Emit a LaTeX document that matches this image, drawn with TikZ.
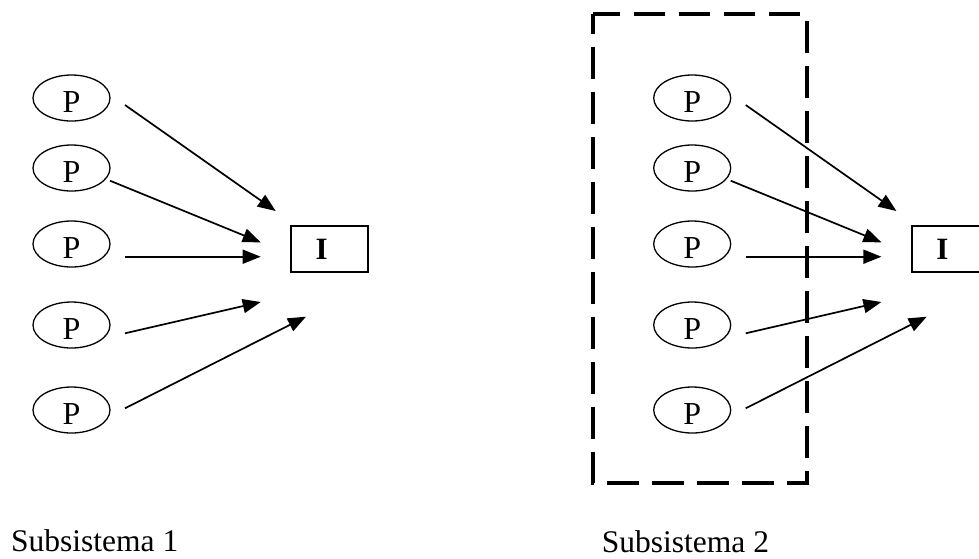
\documentclass[tikz,border=0pt]{standalone}
\usepackage{fontspec}
\setmainfont{Liberation Serif}
\usetikzlibrary{arrows.meta,shapes.geometric}
\begin{document}
\begin{tikzpicture}[x=1pt,y=-1pt,
  pnode/.style={draw, ellipse, line width=1.3pt, minimum width=77pt, minimum height=46pt, inner sep=0pt,
    label={[yshift=-4pt, font=\fontsize{32}{36}\selectfont, inner sep=0pt]center:P}},
  ibox/.style={draw, rectangle, line width=1.8pt, minimum width=77pt, minimum height=46pt, inner sep=0pt,
    label={[xshift=-8pt, font=\fontsize{31}{36}\selectfont\bfseries, inner sep=0pt]center:I}},
  flow/.style={line width=1.7pt, -{Triangle[length=18pt,width=14pt]}},
  frame/.style={line width=4pt, dash pattern=on 31.7pt off 13.3pt, dash phase=11.7pt},
  lbl/.style={font=\fontsize{31.5}{36}\selectfont, anchor=base west, inner sep=0pt},
  subsys/.pic={
    \node[pnode] (-p1) at (71.5,98) {};
    \node[pnode] (-p2) at (71.5,168) {};
    \node[pnode] (-p3) at (71.5,244) {};
    \node[pnode] (-p4) at (71.5,325) {};
    \node[pnode] (-p5) at (71.5,410) {};
    \node[ibox] (-i) at (329.7,249) {};
    \coordinate (-s1) at (125,105);   \coordinate (-t1) at (275.7,211);
    \coordinate (-s2) at (110,180.7); \coordinate (-t2) at (260.7,242.3);
    \coordinate (-s3) at (125,256.7); \coordinate (-t3) at (260.7,256.7);
    \coordinate (-s4) at (125,333.3); \coordinate (-t4) at (260.7,302);
    \coordinate (-s5) at (125,408.3); \coordinate (-t5) at (306,316.7);
    \draw[flow] (-s1) -- (-t1);
    \draw[flow] (-s2) -- (-t2);
    \draw[flow] (-s3) -- (-t3);
    \draw[flow] (-s4) -- (-t4);
    \draw[flow] (-s5) -- (-t5);
  }
]
\useasboundingbox (0,0) rectangle (979,558);
\pic (L) at (0,0) {subsys};
\pic (R) at (620.7,0) {subsys};
\draw[frame] (593.3,14) rectangle (806.7,483.3);
\node[lbl] (lab1) at (11,551.5) {Subsistema 1};
\node[lbl] (lab2) at (601.7,552.5) {Subsistema 2};
\end{tikzpicture}
\end{document}
